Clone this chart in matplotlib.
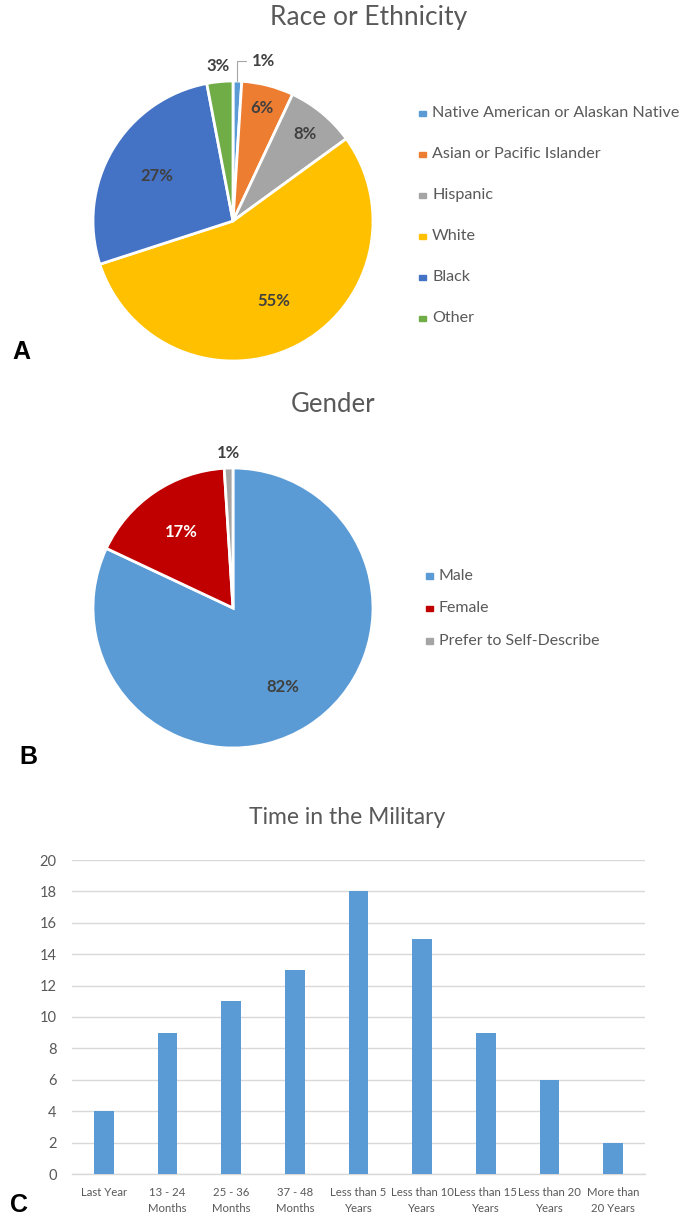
import matplotlib.pyplot as plt
from matplotlib.patches import Rectangle
import numpy as np

# Panel A: race / ethnicity shares (%)
race_labels = ['Native American or Alaskan Native', 'Asian or Pacific Islander',
               'Hispanic', 'White', 'Black', 'Other']
race_pct = [1, 6, 8, 55, 27, 3]
race_colors = ['#5B9BD5', '#ED7D31', '#A5A5A5', '#FFC000', '#4472C4', '#70AD47']

# Panel B: gender shares (%)
gender_labels = ['Male', 'Female', 'Prefer to Self-Describe']
gender_pct = [82, 17, 1]
gender_colors = ['#5B9BD5', '#C00000', '#A5A5A5']

# Panel C: time in the military (counts)
service_labels = ['Last Year', '13 - 24\nMonths', '25 - 36\nMonths', '37 - 48\nMonths',
                  'Less than 5\nYears', 'Less than 10\nYears', 'Less than 15\nYears',
                  'Less than 20\nYears', 'More than\n20 Years']
service_counts = [4, 9, 11, 13, 18, 15, 9, 6, 2]

W, H = 682, 1219
FONT = 'Lato'
GREY = '#595959'
DARK = '#404040'


def px(x, y):
    return x / W, 1 - y / H


def rect(x0, y0, x1, y1):
    # axes rectangle from pixel box (top-left / bottom-right)
    return [x0 / W, 1 - y1 / H, (x1 - x0) / W, (y1 - y0) / H]


def draw_pie(ax, values, colors):
    wedges, _ = ax.pie(values, colors=colors, startangle=90, counterclock=False,
                       wedgeprops=dict(edgecolor='white', linewidth=2))
    ax.set_xlim(-1, 1)
    ax.set_ylim(-1, 1)
    ax.set_aspect('equal')
    ax.axis('off')
    mids = [np.deg2rad((w.theta1 + w.theta2) / 2) for w in wedges]
    return wedges, mids


fig = plt.figure(figsize=(W / 100, H / 100), dpi=100)

# ---- A ----
axA = fig.add_axes(rect(93, 81, 373, 361))
wedges, mids = draw_pie(axA, race_pct, race_colors)
label_r = [None, 0.83, 0.81, 0.64, 0.63, 1.11]
for v, th, r in zip(race_pct, mids, label_r):
    if r is None:
        continue
    axA.text(r * np.cos(th), r * np.sin(th), f'{v}%', ha='center', va='center',
             fontsize=12, fontweight='bold', color=DARK, family=FONT)
# 1% slice: label pulled out with a leader line
th = mids[0]
tip = (np.cos(th), np.sin(th))
axA.annotate(f'{race_pct[0]}%', xy=tip, xytext=(tip[0] + 0.10, 1.14),
             ha='left', va='center', fontsize=12, fontweight='bold', color=DARK,
             family=FONT, annotation_clip=False,
             arrowprops=dict(arrowstyle='-', color='#A6A6A6', lw=0.8,
                             shrinkA=2, shrinkB=0,
                             connectionstyle='angle,angleA=180,angleB=90,rad=0'))

fig.text(*px(369, 18), 'Race or Ethnicity', ha='center', va='center',
         fontsize=19, color=GREY, family=FONT)

for i, (lab, c) in enumerate(zip(race_labels, race_colors)):
    y = 113 + i * 41
    x0, y0 = px(419, y + 3)
    fig.patches.append(Rectangle((x0, y0), 7 / W, 5 / H, color=c,
                                 transform=fig.transFigure, figure=fig))
    fig.text(*px(432, y), lab, ha='left', va='center', fontsize=11.6,
             color=GREY, family=FONT)

fig.text(*px(12, 352), 'A', ha='left', va='center', fontsize=18,
         fontweight='bold', family='Liberation Sans')

# ---- B ----
axB = fig.add_axes(rect(93, 468, 373, 748))
wedges, mids = draw_pie(axB, gender_pct, gender_colors)
label_r = [0.67, 0.66, 1.11]
label_c = [DARK, 'white', DARK]
for v, th, r, c in zip(gender_pct, mids, label_r, label_c):
    axB.text(r * np.cos(th), r * np.sin(th), f'{v}%', ha='center', va='center',
             fontsize=12, fontweight='bold', color=c, family=FONT)

fig.text(*px(333, 404), 'Gender', ha='center', va='center',
         fontsize=18.5, color=GREY, family=FONT)

for i, (lab, c) in enumerate(zip(gender_labels, gender_colors)):
    y = 576 + i * 32.5
    x0, y0 = px(426, y + 3)
    fig.patches.append(Rectangle((x0, y0), 7 / W, 6 / H, color=c,
                                 transform=fig.transFigure, figure=fig))
    fig.text(*px(439, y), lab, ha='left', va='center', fontsize=11.4,
             color=GREY, family=FONT)

fig.text(*px(19, 757), 'B', ha='left', va='center', fontsize=18,
         fontweight='bold', family='Liberation Sans')

# ---- C ----
axC = fig.add_axes(rect(72, 860, 645, 1174))
x = np.arange(len(service_counts))
axC.bar(x, service_counts, width=0.31, color='#5B9BD5', zorder=3)
axC.set_xlim(-0.5, len(service_counts) - 0.5)
axC.set_ylim(0, 20)
axC.set_yticks(np.arange(0, 21, 2))
axC.set_xticks(x)
axC.set_xticklabels(service_labels, fontsize=8.2, color=GREY, family=FONT,
                    linespacing=1.6)
for t in axC.get_yticklabels():
    t.set_fontsize(10.5)
    t.set_color(GREY)
    t.set_family(FONT)
axC.tick_params(axis='y', length=0, pad=11)
axC.tick_params(axis='x', length=0, pad=9)
axC.grid(axis='y', color='#D9D9D9', linewidth=1, zorder=0)
for s in ['left', 'right', 'top']:
    axC.spines[s].set_visible(False)
axC.spines['bottom'].set_color('#D9D9D9')
axC.spines['bottom'].set_linewidth(1)

fig.text(*px(347, 817), 'Time in the Military', ha='center', va='center',
         fontsize=16.5, color=GREY, family=FONT)
fig.text(*px(10, 1205), 'C', ha='left', va='center', fontsize=18,
         fontweight='bold', family='Liberation Sans')

fig.savefig('out.png', dpi=100, facecolor='white')
